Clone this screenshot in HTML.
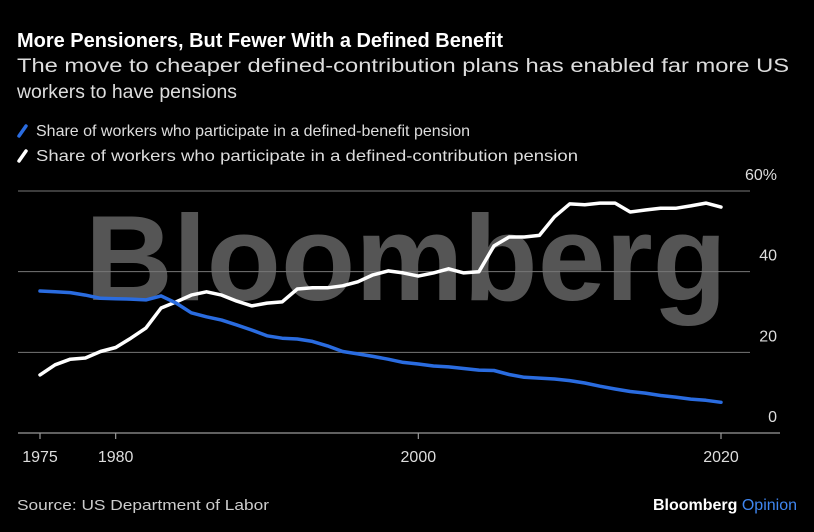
<!DOCTYPE html>
<html><head><meta charset="utf-8"><style>
html,body{margin:0;padding:0;background:#000;width:814px;height:532px;overflow:hidden}
svg{display:block;font-family:"Liberation Sans",Arial,sans-serif}
</style></head><body>
<svg id="chart" width="814" height="532" viewBox="0 0 814 532">
<rect width="814" height="532" fill="#000"/>
<text x="17" y="47" fill="#fff" font-weight="bold" font-size="20" textLength="486" lengthAdjust="spacingAndGlyphs">More Pensioners, But Fewer With a Defined Benefit</text>
<text x="17" y="72" fill="#ddd" font-size="19" textLength="772" lengthAdjust="spacingAndGlyphs">The move to cheaper defined-contribution plans has enabled far more US</text>
<text x="17" y="98" fill="#ddd" font-size="19" textLength="220" lengthAdjust="spacingAndGlyphs">workers to have pensions</text>
<g>
<line x1="19" y1="136" x2="26" y2="126" stroke="#2a6ce0" stroke-width="3.5" stroke-linecap="round"/>
<text x="36" y="136" fill="#ddd" font-size="16" textLength="434" lengthAdjust="spacingAndGlyphs">Share of workers who participate in a defined-benefit pension</text>
<line x1="19" y1="161" x2="26" y2="151" stroke="#fff" stroke-width="3.5" stroke-linecap="round"/>
<text x="36" y="161" fill="#ddd" font-size="16" textLength="542" lengthAdjust="spacingAndGlyphs">Share of workers who participate in a defined-contribution pension</text>
</g>
<text x="85" y="300" fill="#555" font-weight="bold" font-size="122" textLength="642" lengthAdjust="spacingAndGlyphs">Bloomberg</text>
<g id="grid"></g>
<g id="axes"></g>
<g id="series"></g>
<text x="17" y="510" fill="#ccc" font-size="15" textLength="252" lengthAdjust="spacingAndGlyphs">Source: US Department of Labor</text>
<text x="797" y="510" text-anchor="end" font-size="16" font-weight="bold"><tspan fill="#fff">Bloomberg </tspan><tspan fill="#3f86f0" font-weight="normal">Opinion</tspan></text>
</svg>
<script>
const years = [1975,1976,1977,1978,1979,1980,1981,1982,1983,1984,1985,1986,1987,1988,1989,1990,1991,1992,1993,1994,1995,1996,1997,1998,1999,2000,2001,2002,2003,2004,2005,2006,2007,2008,2009,2010,2011,2012,2013,2014,2015,2016,2017,2018,2019,2020];
const definedBenefit = [35.2,35,34.8,34.2,33.4,33.3,33.2,33,34,32.2,29.8,28.8,28,26.8,25.5,24.1,23.5,23.3,22.7,21.6,20.2,19.6,19,18.3,17.5,17.1,16.6,16.4,16,15.6,15.5,14.5,13.8,13.6,13.4,13,12.4,11.6,10.9,10.3,9.9,9.3,8.9,8.4,8.1,7.6];
const definedContribution = [14.4,16.9,18.3,18.6,20.2,21.2,23.5,26,31,32.5,34.2,35,34.2,32.7,31.5,32.2,32.5,35.7,36,36,36.5,37.5,39.2,40.2,39.7,38.9,39.7,40.7,39.7,40,46.4,48.6,48.6,49,53.6,56.8,56.6,57,57,54.8,55.3,55.7,55.7,56.3,57,56];
const yTicks = [0,20,40,60];
const yTickLabels = ["0","20","40","60%"];
const xTicks = [1975,1980,2000,2020];
const xTickLabels = ["1975","1980","2000","2020"];

const NS = "http://www.w3.org/2000/svg";
const x = yr => 40 + (yr - 1975) * (721 - 40) / 45;
const y = v => 433 - v * (433 - 191) / 60;
function mk(tag, attrs, parent){const e=document.createElementNS(NS,tag);for(const k in attrs)e.setAttribute(k,attrs[k]);parent.appendChild(e);return e;}
const grid=document.getElementById('grid'), axes=document.getElementById('axes'), series=document.getElementById('series');
yTicks.forEach((t,i)=>{
  if(t!==0){
    const l=mk('line',{x1:18,x2:750,y1:y(t),y2:y(t),stroke:'#777','stroke-width':1},grid);
    
    
  }
  const tx=mk('text',{x:777,y:y(t)-11,fill:'#ddd','font-size':16,'text-anchor':'end'},axes);
  tx.textContent=yTickLabels[i];
  
  
});
const ax=mk('line',{x1:18,x2:780,y1:433,y2:433,stroke:'#999','stroke-width':1.2},axes);


xTicks.forEach((t,i)=>{
  const tk=mk('line',{x1:x(t),x2:x(t),y1:433,y2:439,stroke:'#999','stroke-width':1.2},axes);
  
  
  const tx=mk('text',{x:x(t),y:462,fill:'#ddd','font-size':16,'text-anchor':'middle'},axes);
  tx.textContent=xTickLabels[i];
  
  
});
function pts(arr){return arr.map((v,i)=>x(years[i]).toFixed(1)+','+y(v).toFixed(1)).join(' ');}
const dc=mk('polyline',{points:pts(definedContribution),fill:'none',stroke:'#fff','stroke-width':3.5,'stroke-linejoin':'round','stroke-linecap':'round'},series);


const db=mk('polyline',{points:pts(definedBenefit),fill:'none',stroke:'#2a6ce0','stroke-width':3.5,'stroke-linejoin':'round','stroke-linecap':'round'},series);


</script>
</body></html>
